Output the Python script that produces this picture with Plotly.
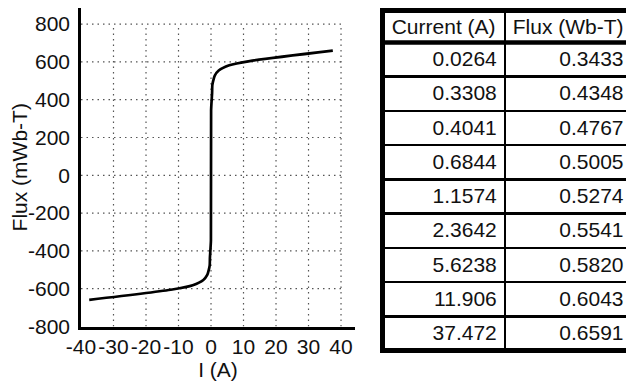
import plotly.graph_objects as go

# Table data (positive branch of the flux curve)
current_a = [0.0264, 0.3308, 0.4041, 0.6844, 1.1574, 2.3642, 5.6238, 11.906, 37.472]
flux_wbt = [0.3433, 0.4348, 0.4767, 0.5005, 0.5274, 0.5541, 0.5820, 0.6043, 0.6591]
current_labels = ["0.0264", "0.3308", "0.4041", "0.6844", "1.1574", "2.3642", "5.6238", "11.906", "37.472"]
flux_labels = ["0.3433", "0.4348", "0.4767", "0.5005", "0.5274", "0.5541", "0.5820", "0.6043", "0.6591"]
header_labels = ["Current\u00a0(A)", "Flux\u00a0(Wb-T)"]

x_ticks = [-40, -30, -20, -10, 0, 10, 20, 30, 40]
y_ticks = [-800, -600, -400, -200, 0, 200, 400, 600, 800]

# symmetric curve in mWb-T
curve_x = [-c for c in reversed(current_a)] + current_a
curve_y = [-f * 1000 for f in reversed(flux_wbt)] + [f * 1000 for f in flux_wbt]

# page body has an 8px margin, so the figure is placed 8px in from the window edge
W, H = 626, 379
FONT = "Liberation Sans, Arial, sans-serif"

# table geometry (px in figure coordinates)
T_LEFT, T_RIGHT, T_TOP = 374.5, 624.0, 2.5
HEAD_H, ROW_H = 32.0, 34.22
T_BOTTOM = T_TOP + HEAD_H + ROW_H * len(current_labels)

fig = go.Figure()

fig.add_trace(go.Scatter(
    x=curve_x, y=curve_y, mode="lines",
    line=dict(color="black", width=2.7, shape="spline", smoothing=0.6),
    showlegend=False, hoverinfo="skip",
))

fig.add_trace(go.Table(
    domain=dict(x=[T_LEFT / W, T_RIGHT / W], y=[(H - T_BOTTOM - 1) / H, (H - T_TOP) / H]),
    columnwidth=[122.5, 127],
    header=dict(
        values=header_labels,
        align="center",
        height=HEAD_H,
        font=dict(family=FONT, size=21, color="#111"),
        line=dict(color="black", width=2.5),
        fill=dict(color="white"),
    ),
    cells=dict(
        values=[current_labels, flux_labels],
        align="right",
        height=ROW_H,
        font=dict(family=FONT, size=21, color="#111"),
        line=dict(color="black", width=2.5),
        fill=dict(color="white"),
    ),
))

grid_style = dict(color="#555", width=1.2, dash="1.5px,4px")
shapes = []
for xv in x_ticks[1:]:
    shapes.append(dict(type="line", xref="x", yref="y", x0=xv, x1=xv, y0=y_ticks[0], y1=y_ticks[-1],
                       line=grid_style, layer="below"))
for yv in y_ticks[1:]:
    shapes.append(dict(type="line", xref="x", yref="y", x0=x_ticks[0], x1=x_ticks[-1], y0=yv, y1=yv,
                       line=grid_style, layer="below"))
# thick outer frame of the table and the rule under its header
shapes.append(dict(type="rect", xref="paper", yref="paper",
                   x0=T_LEFT / W, x1=T_RIGHT / W, y0=1 - T_BOTTOM / H, y1=1 - T_TOP / H,
                   line=dict(color="black", width=5), layer="above"))
shapes.append(dict(type="line", xref="paper", yref="paper",
                   x0=T_LEFT / W, x1=T_RIGHT / W, y0=1 - (T_TOP + HEAD_H) / H, y1=1 - (T_TOP + HEAD_H) / H,
                   line=dict(color="black", width=4.5), layer="above"))

fig.update_layout(
    width=W, height=H,
    margin=dict(l=0, r=0, t=0, b=0),
    paper_bgcolor="white", plot_bgcolor="white",
    font=dict(family=FONT, size=21, color="#111"),
    shapes=shapes,
    xaxis=dict(
        domain=[73 / W, 347 / W], range=[-40, 44.3], automargin=False,
        tickvals=x_ticks, ticktext=[str(v) for v in x_ticks],
        showgrid=False, zeroline=False, showline=True, linecolor="black", linewidth=2.5,
        ticks="", tickfont=dict(size=21),
        title=dict(text="I (A)", font=dict(size=21), standoff=4),
    ),
    yaxis=dict(
        domain=[(H - 318.5) / H, 1], range=[-800, 885], automargin=False,
        tickvals=y_ticks, ticktext=[str(v) for v in y_ticks],
        showgrid=False, zeroline=False, showline=True, linecolor="black", linewidth=2.5,
        ticks="", tickfont=dict(size=21), ticklabelstandoff=4,
        title=dict(text="Flux (mWb-T)", font=dict(size=21), standoff=0),
    ),
)

fig.write_html("out.html")
